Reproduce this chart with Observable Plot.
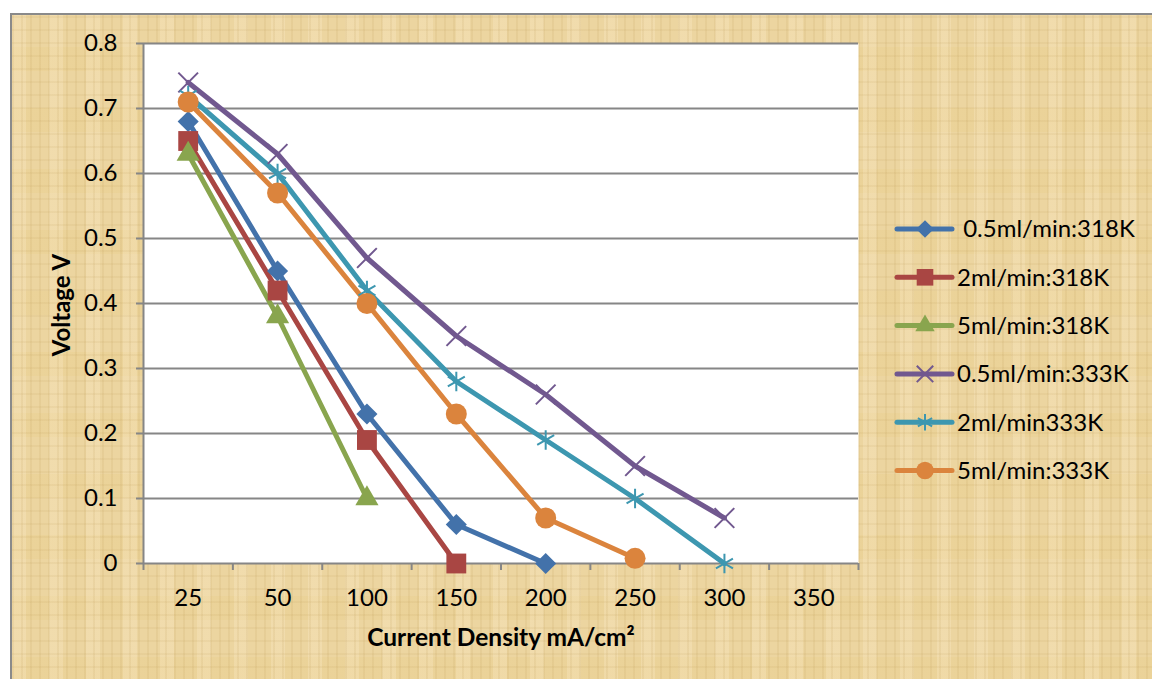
<!DOCTYPE html>
<html>
<head>
<meta charset="utf-8">
<script src="https://cdn.jsdelivr.net/npm/d3@7"></script>
<script src="https://cdn.jsdelivr.net/npm/@observablehq/plot@0.6"></script>
<style>
  html, body { margin: 0; padding: 0; background: #ffffff; }
  #wrap { position: relative; width: 1152px; height: 679px; overflow: hidden; }
  #paper {
    position: absolute; left: 10px; top: 13px; width: 1142px; height: 666px;
    border-top: 2px solid #8a8a8a; border-left: 2px solid #8a8a8a;
    background-color: #ecd5a0;
    background-image:
      repeating-linear-gradient(90deg, rgba(185,150,80,0.12) 0px, rgba(185,150,80,0.12) 2px, transparent 2px, transparent 9px),
      repeating-linear-gradient(0deg, rgba(185,150,80,0.10) 0px, rgba(185,150,80,0.10) 2px, transparent 2px, transparent 13px),
      repeating-linear-gradient(90deg, rgba(255,240,210,0.25) 0px, rgba(255,240,210,0.25) 14px, transparent 14px, transparent 37px),
      repeating-linear-gradient(0deg, rgba(230,200,120,0.18) 0px, rgba(230,200,120,0.18) 24px, transparent 24px, transparent 61px);
  }
  #chart { position: absolute; left: 0; top: 0; }
</style>
</head>
<body>
<div id="wrap"><div id="paper"></div><div id="chart"></div></div>
<script>
const categories = ["25", "50", "100", "150", "200", "250", "300", "350"];
const seriesNames = [" 0.5ml/min:318K", "2ml/min:318K", "5ml/min:318K", "0.5ml/min:333K", "2ml/min333K", "5ml/min:333K"];
const s1 = [0.68, 0.45, 0.23, 0.06, 0];
const s2 = [0.65, 0.42, 0.19, 0];
const s3 = [0.63, 0.38, 0.10];
const s4 = [0.74, 0.63, 0.47, 0.35, 0.26, 0.15, 0.07];
const s5 = [0.72, 0.60, 0.42, 0.28, 0.19, 0.10, 0];
const s6 = [0.71, 0.57, 0.40, 0.23, 0.07, 0.008];
const yTicks = [0, 0.1, 0.2, 0.3, 0.4, 0.5, 0.6, 0.7, 0.8];

const colors = ["#4372aa", "#a94643", "#89a54e", "#71588f", "#3d97b0", "#db843d"];
const symbols = ["diamond2", "square", "triangle", "times", "asterisk", "circle"];
const radii = [9.5, 11.2, 8.6, 9, 9.3, 10.5];
const filled = [true, true, true, false, false, true];
const allSeries = [s1, s2, s3, s4, s5, s6];

const data = [];
allSeries.forEach((arr, si) => arr.forEach((v, i) => data.push({s: si, i, v})));

const boundaries = d3.range(categories.length + 1).map(k => k - 0.5);
const font = "Lato, 'Open Sans', sans-serif";

const marks = [
  Plot.frame({fill: "white", stroke: null}),
  Plot.gridY(yTicks, {stroke: "#868686", strokeOpacity: 1, strokeWidth: 2}),
  Plot.axisY(yTicks, {tickSize: 7, tickPadding: 19, fontSize: 24, stroke: "#868686", strokeWidth: 2, tickFormat: d => d === 0 ? "0" : d3.format(".1f")(d), label: null}),
  Plot.ruleX([-0.5], {stroke: "#868686", strokeWidth: 2}),
  Plot.axisX(boundaries, {tickSize: 7, tickFormat: () => "", stroke: "#868686", strokeWidth: 2, label: null}),
  Plot.axisX(d3.range(categories.length), {tickSize: 0, tickPadding: 25, fontSize: 24, tickFormat: i => categories[i], label: null}),
];
allSeries.forEach((arr, si) => {
  const d = data.filter(r => r.s === si);
  marks.push(Plot.line(d, {x: "i", y: "v", stroke: colors[si], strokeWidth: 5, strokeLinejoin: "round"}));
});
allSeries.forEach((arr, si) => {
  const d = data.filter(r => r.s === si);
  marks.push(Plot.dot(d, filled[si]
    ? {x: "i", y: "v", symbol: () => symbols[si], r: radii[si], fill: colors[si], stroke: null}
    : {x: "i", y: "v", symbol: () => symbols[si], r: radii[si], stroke: colors[si], strokeWidth: 2, fill: "none"}));
});

const plot = Plot.plot({
  width: 1152, height: 679,
  marginLeft: 143, marginRight: 294, marginTop: 43, marginBottom: 116,
  style: {fontFamily: font, background: "transparent", color: "#000"},
  x: {type: "linear", domain: [-0.5, categories.length - 0.5], axis: null},
  y: {domain: [0, 0.8], axis: null},
  symbol: {type: "identity"},
  marks
});
document.getElementById("chart").appendChild(plot);

const svg = d3.select(plot);
svg.append("text").attr("x", 501).attr("y", 646).attr("text-anchor", "middle")
  .attr("font-family", font).attr("font-weight", "bold").attr("font-size", 24.5)
  .attr("fill", "#000").text("Current Density mA/cm\u00b2");
svg.append("text").attr("transform", "translate(70,305) rotate(-90)").attr("text-anchor", "middle")
  .attr("font-family", font).attr("font-weight", "bold").attr("font-size", 24)
  .attr("fill", "#000").text("Voltage V");

// legend
const symMap = {diamond2: d3.symbolDiamond2, square: d3.symbolSquare, triangle: d3.symbolTriangle, times: d3.symbolTimes, asterisk: d3.symbolAsterisk, circle: d3.symbolCircle};
const lg = svg.append("g");
seriesNames.forEach((name, si) => {
  const yy = 229 + si * 48.3;
  const g = lg.append("g").attr("transform", `translate(0,${yy})`);
  g.append("line").attr("x1", 897).attr("x2", 952).attr("y1", 0).attr("y2", 0)
    .attr("stroke", colors[si]).attr("stroke-width", 5).attr("stroke-linecap", "round");
  const path = d3.symbol(symMap[symbols[si]], Math.PI * radii[si] * radii[si] * 0.7)();
  g.append("path").attr("d", path).attr("transform", "translate(925,0)")
    .attr("fill", filled[si] ? colors[si] : "none")
    .attr("stroke", filled[si] ? "none" : colors[si]).attr("stroke-width", 2);
  g.append("text").attr("x", 957).attr("y", 0).attr("dy", "0.35em").attr("text-anchor", "start")
    .attr("font-family", font).attr("font-size", 24).attr("fill", "#000")
    .style("white-space", "pre").text(name);
});
</script>
</body>
</html>
